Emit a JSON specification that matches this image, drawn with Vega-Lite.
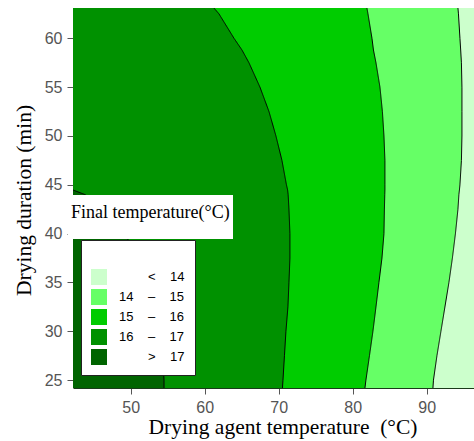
{
  "$schema": "https://vega.github.io/schema/vega-lite/v6.json",
  "autosize": {"type": "none"},
  "width": 401,
  "height": 380,
  "padding": {"left": 73, "top": 8, "right": 0, "bottom": 53},
  "background": "white",
  "config": {
    "view": {"stroke": null, "fill": "#ccffcc"},
    "axis": {
      "grid": false,
      "labelFont": "Liberation Sans",
      "labelFontSize": 16,
      "labelColor": "#555555",
      "tickColor": "#555555",
      "tickSize": 6,
      "labelPadding": 5,
      "titleFont": "Liberation Serif",
      "titleFontSize": 21.5,
      "titleFontWeight": "normal",
      "titleColor": "#000000"
    }
  },
  "data": {
    "values": [
      {"dur": 63.1, "t17": null, "t16": 61.25, "t15": 81.93, "t14": 94.23},
      {"dur": 62.5, "t17": null, "t16": 61.93, "t15": 82.07, "t14": 94.30},
      {"dur": 60, "t17": null, "t16": 63.96, "t15": 82.61, "t14": 94.50},
      {"dur": 58.8, "t17": null, "t16": 65.04, "t15": 82.81, "t14": 94.60},
      {"dur": 57.5, "t17": null, "t16": 65.98, "t15": 83.15, "t14": 94.70},
      {"dur": 55, "t17": null, "t16": 67.47, "t15": 83.69, "t14": 94.77},
      {"dur": 52.5, "t17": null, "t16": 68.69, "t15": 84.02, "t14": 94.77},
      {"dur": 50, "t17": null, "t16": 69.63, "t15": 84.23, "t14": 94.77},
      {"dur": 47.5, "t17": null, "t16": 70.44, "t15": 84.36, "t14": 94.70},
      {"dur": 45, "t17": null, "t16": 71.05, "t15": 84.36, "t14": 94.50},
      {"dur": 44.47, "t17": 42.2, "t16": 71.21, "t15": 84.36, "t14": 94.43},
      {"dur": 44, "t17": 43.82, "t16": 71.28, "t15": 84.34, "t14": 94.36},
      {"dur": 42.5, "t17": 46.5, "t16": 71.39, "t15": 84.29, "t14": 94.23},
      {"dur": 40, "t17": 49.2, "t16": 71.52, "t15": 84.23, "t14": 93.89},
      {"dur": 37.5, "t17": 51.0, "t16": 71.52, "t15": 83.96, "t14": 93.48},
      {"dur": 35, "t17": 52.3, "t16": 71.39, "t15": 83.55, "t14": 93.01},
      {"dur": 32.5, "t17": 53.3, "t16": 71.25, "t15": 83.15, "t14": 92.47},
      {"dur": 30, "t17": 54.0, "t16": 70.98, "t15": 82.74, "t14": 91.93},
      {"dur": 27.5, "t17": 54.35, "t16": 70.78, "t15": 82.27, "t14": 91.39},
      {"dur": 25, "t17": 54.5, "t16": 70.58, "t15": 81.79, "t14": 90.92},
      {"dur": 24.2, "t17": 54.5, "t16": 70.51, "t15": 81.66, "t14": 90.85}
    ]
  },
  "layer": [
    {
      "mark": {"type": "area", "orient": "horizontal", "clip": true, "opacity": 1},
      "encoding": {
        "y": {"field": "dur", "type": "quantitative",
          "scale": {"domain": [24.2, 63.1], "nice": false, "zero": false},
          "axis": {"values": [25, 30, 35, 40, 45, 50, 55, 60], "domain": false,
            "title": "Drying duration (min)", "titleX": -43, "titleY": 192, "titleBaseline": "alphabetic", "titleAlign": "center", "titleAngle": -90}},
        "x": {"field": "t14", "type": "quantitative", "stack": null,
          "scale": {"domain": [42.2, 96.4], "nice": false, "zero": false},
          "axis": {"values": [50, 60, 70, 80, 90], "domain": true, "domainColor": "#1a3a1a", "domainWidth": 1,
            "title": "Drying agent temperature\u00a0\u00a0(°C)", "titleX": 209.5, "titleY": 45, "titleBaseline": "alphabetic", "titleAlign": "center"}},
        "color": {
          "datum": "14\u00a0\u00a0\u00a0\u00a0\u2013\u00a0\u00a0\u00a0\u00a015\u00a0\u00a0",
          "scale": {
            "domain": [
              "\u200b\u00a0\u00a0\u00a0\u00a0\u00a0\u00a0\u00a0\u00a0<\u00a0\u00a0\u00a0\u00a014\u00a0\u00a0",
              "14\u00a0\u00a0\u00a0\u00a0\u2013\u00a0\u00a0\u00a0\u00a015\u00a0\u00a0",
              "15\u00a0\u00a0\u00a0\u00a0\u2013\u00a0\u00a0\u00a0\u00a016\u00a0\u00a0",
              "16\u00a0\u00a0\u00a0\u00a0\u2013\u00a0\u00a0\u00a0\u00a017\u00a0\u00a0",
              "\u200b\u00a0\u00a0\u00a0\u00a0\u00a0\u00a0\u00a0\u00a0>\u00a0\u00a0\u00a0\u00a017\u00a0\u00a0"
            ],
            "range": ["#ccffcc", "#66ff66", "#00cc00", "#009100", "#006400"]
          },
          "legend": {
            "title": " ",
            "titleFontSize": 14,
            "titlePadding": 5,
            "orient": "none",
            "legendX": 8,
            "legendY": 232,
            "fillColor": "white",
            "strokeColor": "#222222",
            "padding": 10,
            "symbolType": "square",
            "symbolSize": 256,
            "symbolStrokeWidth": 0,
            "symbolOpacity": 1,
            "labelFont": "Liberation Sans",
            "labelFontSize": 13,
            "labelColor": "#000000",
            "labelOffset": 12,
            "rowPadding": 4,
            "labelLimit": 200
          }
        }
      }
    },
    {
      "mark": {"type": "area", "orient": "horizontal", "clip": true, "opacity": 1},
      "encoding": {
        "y": {"field": "dur", "type": "quantitative"},
        "x": {"field": "t15", "type": "quantitative", "stack": null},
        "color": {"datum": "15\u00a0\u00a0\u00a0\u00a0\u2013\u00a0\u00a0\u00a0\u00a016\u00a0\u00a0"}
      }
    },
    {
      "mark": {"type": "area", "orient": "horizontal", "clip": true, "opacity": 1},
      "encoding": {
        "y": {"field": "dur", "type": "quantitative"},
        "x": {"field": "t16", "type": "quantitative", "stack": null},
        "color": {"datum": "16\u00a0\u00a0\u00a0\u00a0\u2013\u00a0\u00a0\u00a0\u00a017\u00a0\u00a0"}
      }
    },
    {
      "mark": {"type": "area", "orient": "horizontal", "clip": true, "opacity": 1},
      "encoding": {
        "y": {"field": "dur", "type": "quantitative"},
        "x": {"field": "t17", "type": "quantitative", "stack": null},
        "color": {"datum": "\u200b\u00a0\u00a0\u00a0\u00a0\u00a0\u00a0\u00a0\u00a0>\u00a0\u00a0\u00a0\u00a017\u00a0\u00a0"}
      }
    },
    {
      "mark": {"type": "line", "clip": true, "color": "#000000", "strokeWidth": 1},
      "encoding": {
        "y": {"field": "dur", "type": "quantitative"},
        "x": {"field": "t14", "type": "quantitative"},
        "order": {"field": "dur"},
        "strokeDash": {"datum": "contour", "scale": {"range": [[1, 0]]},
          "legend": {
            "title": ["", "Final temperature(°C)"],
            "titleLineHeight": 6,
            "orient": "none",
            "legendX": -5,
            "legendY": 187,
            "fillColor": "white",
            "padding": 3,
            "titleFont": "Liberation Serif",
            "titleFontSize": 18,
            "titleFontWeight": "normal",
            "titleColor": "#000000",
            "titlePadding": 7,
            "symbolSize": 144,
            "symbolOpacity": 0,
            "symbolStrokeColor": "transparent",
            "labelExpr": "''",
            "labelFontSize": 1,
            "labelOpacity": 0
          }}
      }
    },
    {
      "mark": {"type": "line", "clip": true, "color": "#000000", "strokeWidth": 1},
      "encoding": {
        "y": {"field": "dur", "type": "quantitative"},
        "x": {"field": "t15", "type": "quantitative"},
        "order": {"field": "dur"},
        "strokeDash": {"datum": "contour"}
      }
    },
    {
      "mark": {"type": "line", "clip": true, "color": "#000000", "strokeWidth": 1},
      "encoding": {
        "y": {"field": "dur", "type": "quantitative"},
        "x": {"field": "t16", "type": "quantitative"},
        "order": {"field": "dur"},
        "strokeDash": {"datum": "contour"}
      }
    },
    {
      "mark": {"type": "line", "clip": true, "color": "#000000", "strokeWidth": 1},
      "encoding": {
        "y": {"field": "dur", "type": "quantitative"},
        "x": {"field": "t17", "type": "quantitative"},
        "order": {"field": "dur"},
        "strokeDash": {"datum": "contour"}
      }
    }
  ]
}
